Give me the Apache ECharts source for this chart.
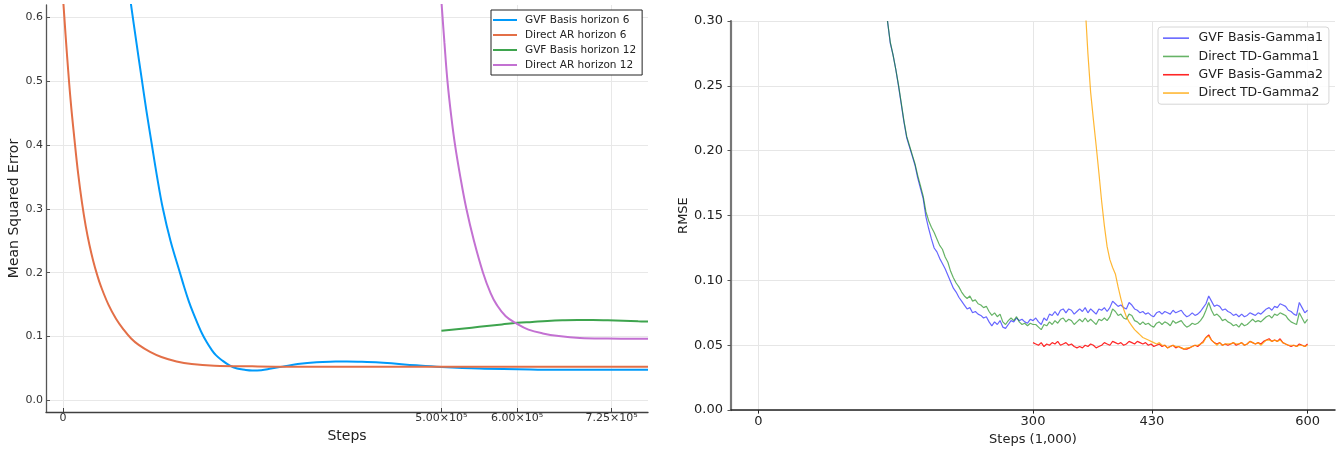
<!DOCTYPE html>
<html>
<head>
<meta charset="utf-8">
<script src="https://cdn.jsdelivr.net/npm/echarts@6/dist/echarts.min.js"></script>
<style>
html, body { margin: 0; padding: 0; background: #fff; }
#main { width: 1338px; height: 451px; }
</style>
</head>
<body>
<div id="main"></div>
<script type="text/javascript">

// ---- left panel: MSE vs steps ----
var leftXTicks = [0, 500000, 600000, 725000];
var leftXLabels = ['0', '5.00\u00d710\u2075', '6.00\u00d710\u2075', '7.25\u00d710\u2075'];
var leftYTicks = [0, 0.1, 0.2, 0.3, 0.4, 0.5, 0.6];

var gvf6Steps = [85000, 89800, 97000, 103800, 110000, 117000, 124000, 132000, 142000, 154500,
                 160000, 166000, 172000, 178000, 184000, 190000, 196000, 202000, 210000, 220000,
                 230000, 240000, 250000, 262000, 275000, 290000, 310000, 335000, 360000, 375000,
                 395000, 423000, 467000, 500000, 550000, 600000, 650000, 700000, 773000];
var gvf6Mse = [0.66, 0.62, 0.56, 0.505, 0.455, 0.403, 0.352, 0.30, 0.25, 0.20,
               0.178, 0.156, 0.137, 0.120, 0.104, 0.091, 0.080, 0.071, 0.063, 0.055,
               0.050, 0.048, 0.047, 0.0475, 0.050, 0.053, 0.057, 0.060, 0.061, 0.0612,
               0.0605, 0.059, 0.055, 0.0525, 0.050, 0.049, 0.048, 0.048, 0.048];

var ar6Steps = [0, 5000, 10000, 15000, 20000, 25000, 30000, 35000, 40000, 45000,
                50000, 60000, 70000, 80000, 90000, 100000, 115000, 130000, 150000, 170000,
                200000, 250000, 300000, 400000, 500000, 600000, 700000, 773000];
var ar6Mse = [0.63, 0.545, 0.47, 0.41, 0.355, 0.31, 0.273, 0.243, 0.218, 0.197,
              0.179, 0.15, 0.128, 0.111, 0.097, 0.087, 0.076, 0.068, 0.061, 0.057,
              0.0545, 0.0535, 0.053, 0.053, 0.053, 0.053, 0.053, 0.053];

var gvf12Steps = [500000, 520000, 540000, 560000, 580000, 600000, 620000, 640000, 660000, 680000,
                  700000, 720000, 740000, 760000, 773000];
var gvf12Mse = [0.109, 0.1115, 0.114, 0.1165, 0.119, 0.1215, 0.123, 0.1245, 0.1255, 0.126,
                0.126, 0.1255, 0.1248, 0.124, 0.1235];

var ar12Steps = [500000, 504000, 508000, 513000, 518000, 525000, 533000, 543000, 555000, 565000,
                 573000, 585000, 600000, 615000, 634000, 655000, 683000, 720000, 773000];
var ar12Mse = [0.625, 0.56, 0.50, 0.445, 0.40, 0.35, 0.30, 0.25, 0.20, 0.168,
               0.150, 0.132, 0.12, 0.111, 0.105, 0.101, 0.098, 0.097, 0.0965];

// ---- right panel: RMSE vs steps (1,000), sampled every 3 ----
var rightXTicks = [0, 300, 430, 600];
var sampleEvery = 3;

var gvfGamma1Start = 141;
var gvfGamma1 = [
  0.300, 0.283, 0.274, 0.263, 0.250, 0.236, 0.222, 0.210, 0.203, 0.196,
  0.189, 0.179, 0.171, 0.163, 0.149, 0.140, 0.132, 0.125, 0.122, 0.117,
  0.113, 0.109, 0.104, 0.099, 0.094, 0.091, 0.087, 0.084, 0.081, 0.078,
  0.079, 0.075, 0.076, 0.074, 0.073, 0.071, 0.072, 0.068, 0.065, 0.068,
  0.066, 0.069, 0.064, 0.063, 0.066, 0.069, 0.068, 0.071, 0.069, 0.070,
  0.068, 0.067, 0.070, 0.069, 0.071, 0.068, 0.066, 0.071, 0.069, 0.074,
  0.073, 0.076, 0.073, 0.077, 0.078, 0.075, 0.078, 0.077, 0.074, 0.076,
  0.078, 0.076, 0.079, 0.075, 0.078, 0.076, 0.074, 0.078, 0.077, 0.079,
  0.076, 0.079, 0.084, 0.082, 0.080, 0.081, 0.079, 0.078, 0.083, 0.081,
  0.078, 0.077, 0.075, 0.076, 0.074, 0.075, 0.073, 0.072, 0.075, 0.076,
  0.074, 0.076, 0.075, 0.074, 0.077, 0.075, 0.076, 0.077, 0.074, 0.072,
  0.073, 0.075, 0.073, 0.074, 0.076, 0.079, 0.082, 0.088, 0.084, 0.080,
  0.081, 0.080, 0.077, 0.078, 0.076, 0.075, 0.073, 0.074, 0.072, 0.074,
  0.072, 0.073, 0.075, 0.074, 0.073, 0.075, 0.074, 0.076, 0.078, 0.079,
  0.077, 0.080, 0.079, 0.082, 0.081, 0.080, 0.077, 0.076, 0.074, 0.073,
  0.083, 0.079, 0.075, 0.077
];

var tdGamma1Start = 141;
var tdGamma1 = [
  0.300, 0.284, 0.274, 0.263, 0.251, 0.237, 0.223, 0.211, 0.204, 0.197,
  0.190, 0.181, 0.173, 0.165, 0.153, 0.146, 0.141, 0.137, 0.132, 0.127,
  0.124, 0.118, 0.114, 0.107, 0.102, 0.098, 0.095, 0.091, 0.088, 0.086,
  0.088, 0.084, 0.085, 0.082, 0.081, 0.079, 0.080, 0.076, 0.073, 0.075,
  0.072, 0.074, 0.068, 0.066, 0.069, 0.071, 0.069, 0.072, 0.068, 0.066,
  0.067, 0.065, 0.067, 0.066, 0.066, 0.064, 0.062, 0.066, 0.065, 0.068,
  0.066, 0.069, 0.067, 0.070, 0.071, 0.068, 0.070, 0.069, 0.066, 0.068,
  0.070, 0.068, 0.071, 0.068, 0.070, 0.068, 0.066, 0.070, 0.069, 0.071,
  0.069, 0.072, 0.078, 0.076, 0.073, 0.074, 0.071, 0.070, 0.074, 0.073,
  0.069, 0.068, 0.066, 0.068, 0.066, 0.067, 0.065, 0.064, 0.067, 0.068,
  0.066, 0.068, 0.067, 0.065, 0.069, 0.067, 0.068, 0.069, 0.066, 0.064,
  0.065, 0.067, 0.066, 0.067, 0.069, 0.072, 0.077, 0.083, 0.077, 0.073,
  0.074, 0.072, 0.069, 0.070, 0.068, 0.067, 0.065, 0.066, 0.064, 0.067,
  0.065, 0.066, 0.068, 0.070, 0.068, 0.069, 0.068, 0.070, 0.072, 0.073,
  0.071, 0.074, 0.073, 0.075, 0.074, 0.073, 0.070, 0.068, 0.067, 0.066,
  0.075, 0.071, 0.067, 0.070
];

var gvfGamma2Start = 300;
var gvfGamma2 = [
  0.052, 0.051, 0.050, 0.052, 0.049, 0.051, 0.050, 0.052, 0.051, 0.053,
  0.050, 0.051, 0.052, 0.050, 0.051, 0.049, 0.048, 0.049, 0.048, 0.050,
  0.049, 0.051, 0.050, 0.048, 0.049, 0.050, 0.052, 0.051, 0.050, 0.053,
  0.052, 0.051, 0.052, 0.050, 0.051, 0.053, 0.052, 0.051, 0.053, 0.052,
  0.051, 0.052, 0.050, 0.051, 0.049, 0.050, 0.051, 0.049, 0.050, 0.048,
  0.049, 0.050, 0.048, 0.049, 0.048, 0.047, 0.047, 0.048, 0.049, 0.050,
  0.049, 0.051, 0.053, 0.056, 0.058, 0.054, 0.052, 0.051, 0.052, 0.050,
  0.051, 0.050, 0.051, 0.052, 0.050, 0.051, 0.052, 0.050, 0.051, 0.053,
  0.052, 0.051, 0.052, 0.051, 0.053, 0.054, 0.055, 0.053, 0.054, 0.053,
  0.055, 0.052, 0.051, 0.050, 0.049, 0.050, 0.049, 0.051, 0.050, 0.049,
  0.051
];

var tdGamma2Start = 357;
var tdGamma2 = [
  0.312, 0.275, 0.245, 0.224, 0.204, 0.183, 0.161, 0.142, 0.126, 0.116,
  0.110, 0.105, 0.095, 0.086, 0.078, 0.072, 0.068, 0.065, 0.062, 0.060,
  0.058, 0.056, 0.055, 0.054, 0.053, 0.052, 0.051, 0.052, 0.050, 0.050,
  0.048, 0.049, 0.050, 0.049, 0.049, 0.048, 0.047, 0.048, 0.048, 0.049,
  0.050, 0.050, 0.051, 0.052, 0.056, 0.057, 0.054, 0.052, 0.050, 0.052,
  0.050, 0.051, 0.051, 0.051, 0.052, 0.051, 0.051, 0.052, 0.050, 0.051,
  0.053, 0.052, 0.051, 0.052, 0.050, 0.052, 0.054, 0.054, 0.053, 0.054,
  0.053, 0.054, 0.052, 0.051, 0.050, 0.050, 0.050, 0.049, 0.050, 0.050,
  0.049, 0.050
];

function pairs(xs, ys) {
  var out = [];
  for (var i = 0; i < ys.length; i++) out.push([xs[i], ys[i]]);
  return out;
}
function sampled(start, ys) {
  var out = [];
  for (var i = 0; i < ys.length; i++) out.push([start + i * sampleEvery, ys[i]]);
  return out;
}

var font = 'DejaVu Sans';
var chart = echarts.init(document.getElementById('main'), null, { renderer: 'canvas' });

var option = {
  animation: false,
  backgroundColor: '#ffffff',
  textStyle: { fontFamily: font },
  grid: [
    { left: 46, top: 5, width: 602, height: 407 },
    { left: 731, top: 21, width: 604, height: 392 }
  ],
  legend: [
    {
      orient: 'vertical', left: 491, top: 10, icon: 'rect',
      padding: [2.5, 6, 2.5, 2], itemGap: 0, itemWidth: 24, itemHeight: 2,
      borderColor: '#222', borderWidth: 1, backgroundColor: '#fff',
      textStyle: { fontFamily: font, fontSize: 10.5, color: '#222', lineHeight: 15, padding: [0, 0, 0, 3] },
      data: ['GVF Basis horizon 6', 'Direct AR horizon 6', 'GVF Basis horizon 12', 'Direct AR horizon 12']
    },
    {
      orient: 'vertical', left: 1158, top: 27, icon: 'rect',
      padding: [2, 6, 2, 5], itemGap: 0, itemWidth: 26, itemHeight: 1.6,
      borderColor: '#d6d6d6', borderWidth: 1, borderRadius: 3, backgroundColor: 'rgba(255,255,255,0.85)',
      textStyle: { fontFamily: font, fontSize: 12.5, color: '#222', lineHeight: 18.3, padding: [0, 0, 0, 4.5] },
      data: ['GVF Basis-Gamma1', 'Direct TD-Gamma1', 'GVF Basis-Gamma2', 'Direct TD-Gamma2']
    }
  ],
  xAxis: [
    {
      type: 'value', gridIndex: 0, min: -22500, max: 773000,
      name: 'Steps', nameLocation: 'middle', nameGap: 15,
      nameTextStyle: { fontFamily: font, fontSize: 14, color: '#222' },
      axisLine: { onZero: false, lineStyle: { color: '#404040', width: 1.3 } },
      axisTick: { inside: true, length: 4, customValues: leftXTicks, lineStyle: { color: '#404040' } },
      axisLabel: {
        customValues: leftXTicks, fontSize: 11, color: '#333', margin: 1,
        formatter: function (v) { return leftXLabels[leftXTicks.indexOf(v)]; }
      },
      splitLine: { show: true, lineStyle: { color: '#e8e8e8', width: 1 } }
    },
    {
      type: 'value', gridIndex: 1, min: -30, max: 630,
      name: 'Steps (1,000)', nameLocation: 'middle', nameGap: 22,
      nameTextStyle: { fontFamily: font, fontSize: 13, color: '#222' },
      axisLine: { onZero: false, lineStyle: { color: '#222', width: 1.5 } },
      axisTick: { length: 3.5, customValues: rightXTicks, lineStyle: { color: '#222' } },
      axisLabel: { customValues: rightXTicks, fontSize: 13, color: '#222', margin: 5 },
      splitLine: { show: true, lineStyle: { color: '#e6e6e6', width: 1 } }
    }
  ],
  yAxis: [
    {
      type: 'value', gridIndex: 0, min: -0.018, max: 0.619,
      name: 'Mean Squared Error', nameLocation: 'middle', nameGap: 25,
      nameTextStyle: { fontFamily: font, fontSize: 14, color: '#222' },
      axisLine: { show: true, onZero: false, lineStyle: { color: '#555', width: 1.3 } },
      axisTick: { show: true, inside: true, length: 4, customValues: leftYTicks, lineStyle: { color: '#555' } },
      axisLabel: {
        customValues: leftYTicks, fontSize: 11, color: '#333', margin: 3,
        formatter: function (v) { return v.toFixed(1); }
      },
      splitLine: { show: true, lineStyle: { color: '#e8e8e8', width: 1 } }
    },
    {
      type: 'value', gridIndex: 1, min: 0, max: 0.3, interval: 0.05,
      name: 'RMSE', nameLocation: 'middle', nameGap: 41,
      nameTextStyle: { fontFamily: font, fontSize: 13, color: '#222' },
      axisLine: { show: true, onZero: false, lineStyle: { color: '#777', width: 2.2 } },
      axisTick: { show: true, length: 3.5, lineStyle: { color: '#555' } },
      axisLabel: { fontSize: 13, color: '#222', margin: 8, formatter: function (v) { return v.toFixed(2); } },
      splitLine: { show: true, lineStyle: { color: '#e6e6e6', width: 1 } }
    }
  ],
  series: [
    { name: 'GVF Basis horizon 6', type: 'line', xAxisIndex: 0, yAxisIndex: 0, symbol: 'none', smooth: 0.4,
      lineStyle: { color: '#009AFA', width: 2 }, itemStyle: { color: '#009AFA' }, data: pairs(gvf6Steps, gvf6Mse) },
    { name: 'Direct AR horizon 6', type: 'line', xAxisIndex: 0, yAxisIndex: 0, symbol: 'none', smooth: 0.4,
      lineStyle: { color: '#E36F47', width: 2 }, itemStyle: { color: '#E36F47' }, data: pairs(ar6Steps, ar6Mse) },
    { name: 'GVF Basis horizon 12', type: 'line', xAxisIndex: 0, yAxisIndex: 0, symbol: 'none', smooth: 0.4,
      lineStyle: { color: '#3EA44E', width: 2 }, itemStyle: { color: '#3EA44E' }, data: pairs(gvf12Steps, gvf12Mse) },
    { name: 'Direct AR horizon 12', type: 'line', xAxisIndex: 0, yAxisIndex: 0, symbol: 'none', smooth: 0.4,
      lineStyle: { color: '#C371D2', width: 2 }, itemStyle: { color: '#C371D2' }, data: pairs(ar12Steps, ar12Mse) },

    { name: 'GVF Basis-Gamma1', type: 'line', xAxisIndex: 1, yAxisIndex: 1, symbol: 'none',
      lineStyle: { color: 'rgba(0,0,255,0.6)', width: 1.2 }, itemStyle: { color: 'rgba(0,0,255,0.6)' },
      data: sampled(gvfGamma1Start, gvfGamma1) },
    { name: 'Direct TD-Gamma1', type: 'line', xAxisIndex: 1, yAxisIndex: 1, symbol: 'none',
      lineStyle: { color: 'rgba(0,128,0,0.6)', width: 1.2 }, itemStyle: { color: 'rgba(0,128,0,0.6)' },
      data: sampled(tdGamma1Start, tdGamma1) },
    { name: 'GVF Basis-Gamma2', type: 'line', xAxisIndex: 1, yAxisIndex: 1, symbol: 'none',
      lineStyle: { color: 'rgba(255,0,0,0.85)', width: 1.2 }, itemStyle: { color: 'rgba(255,0,0,0.85)' },
      data: sampled(gvfGamma2Start, gvfGamma2) },
    { name: 'Direct TD-Gamma2', type: 'line', xAxisIndex: 1, yAxisIndex: 1, symbol: 'none',
      lineStyle: { color: 'rgba(255,165,0,0.8)', width: 1.2 }, itemStyle: { color: 'rgba(255,165,0,0.8)' },
      data: sampled(tdGamma2Start, tdGamma2) }
  ]
};

chart.setOption(option);
</script>
</body>
</html>
